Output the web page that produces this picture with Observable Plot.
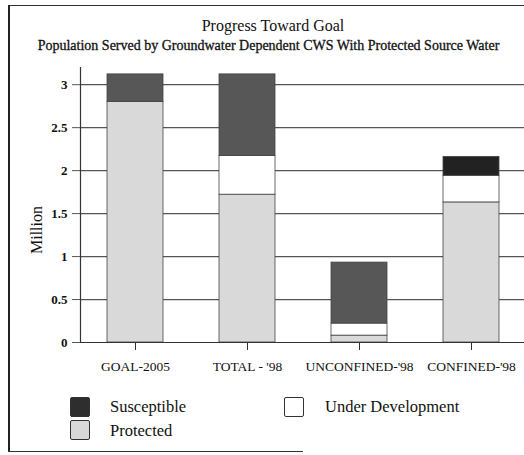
<!DOCTYPE html>
<html>
<head>
<meta charset="utf-8">
<script src="https://cdn.jsdelivr.net/npm/d3@7"></script>
<script src="https://cdn.jsdelivr.net/npm/@observablehq/plot@0.6"></script>
<style>
  body { margin: 0; background: #fff; font-family: "Liberation Serif", "DejaVu Serif", serif; }
  #wrap { position: relative; width: 524px; height: 455px; overflow: hidden; }
  .abs { position: absolute; white-space: nowrap; color: #111; }
  .sw { position: absolute; width: 20px; height: 20px; border: 1px solid #333; box-sizing: border-box; border-radius: 2px; }
</style>
</head>
<body>
<div id="wrap">
  <div class="abs" style="left:8px;top:5px;width:516px;height:0;border-top:1.5px solid #333"></div>
  <div class="abs" style="left:8px;top:5px;width:0;height:447px;border-left:2px solid #222"></div>
  <div class="abs" style="left:8px;top:451px;width:295px;height:0;border-top:1.5px solid #333"></div>
  <div class="abs" id="title" style="left:0;width:546px;top:17px;text-align:center;font-size:16px">Progress Toward Goal</div>
  <div class="abs" id="subtitle" style="left:0;width:537px;top:38px;text-align:center;font-size:14px;-webkit-text-stroke:0.3px #111">Population Served by Groundwater Dependent CWS With Protected Source Water</div>
  <div id="chart" class="abs" style="left:0;top:60px"></div>
  <div class="abs" style="left:37px;top:230px;font-size:16px;transform:translate(-50%,-50%) rotate(-90deg)">Million</div>
  <div id="legend"></div>
</div>
<script>
const categories = ["GOAL-2005", "TOTAL - '98", "UNCONFINED-'98", "CONFINED-'98"];
const protectedVals = [2.80, 1.72, 0.08, 1.63];
const underDevVals = [0.00, 0.45, 0.14, 0.31];
const susceptibleVals = [0.32, 0.95, 0.71, 0.22];
const yTicks = [0, 0.5, 1, 1.5, 2, 2.5, 3];
const seriesNames = ["Protected", "Under Development", "Susceptible"];
const seriesColors = {"Protected": "#d9d9d9", "Under Development": "#ffffff", "Susceptible": "#575757"};

const rows = [];
categories.forEach((c, i) => {
  rows.push({cat: c, series: "Protected", value: protectedVals[i], fill: seriesColors["Protected"]});
  rows.push({cat: c, series: "Under Development", value: underDevVals[i], fill: seriesColors["Under Development"]});
  rows.push({cat: c, series: "Susceptible", value: susceptibleVals[i], fill: i === 3 ? "#222222" : seriesColors["Susceptible"]});
});

const chart = Plot.plot({
  width: 524,
  height: 322,
  marginLeft: 80,
  marginRight: 0,
  marginTop: 7,
  marginBottom: 40,
  style: {fontFamily: "'Liberation Serif', serif", fontSize: "12px", color: "#111", background: "transparent"},
  x: {domain: categories, range: [77.7, 528.3], paddingInner: 0.5, paddingOuter: 0.25, label: null},
  y: {domain: [0, 3.2], label: null},
  marks: [
    Plot.ruleY(yTicks.filter(d => d > 0), {stroke: "#555", strokeWidth: 1.2}),
    Plot.barY(rows, Plot.stackY({x: "cat", y: "value", fill: "fill", stroke: "#444", strokeWidth: 0.8, order: seriesNames})),
    Plot.frame({anchor: "left", stroke: "#333", strokeWidth: 1.2}),
    Plot.ruleY([0], {stroke: "#333", strokeWidth: 1.2}),
    Plot.axisY({ticks: yTicks, tickSize: 8, tickPadding: 5, tickFormat: d => String(d), stroke: "#555", fontSize: 13, fontWeight: "bold"}),
    Plot.axisX({tickSize: 8, tickPadding: 11, fontSize: 13.5, stroke: "#333"})
  ]
});
document.getElementById("chart").appendChild(chart);

const legend = document.getElementById("legend");
const legendItems = [
  {name: "Susceptible", color: "#2e2e2e", sx: 70, sy: 397, tx: 110, ty: 397},
  {name: "Protected", color: "#d9d9d9", sx: 70, sy: 420, tx: 110, ty: 421},
  {name: "Under Development", color: "#ffffff", sx: 284, sy: 397, tx: 325, ty: 397}
];
legendItems.forEach(it => {
  const sw = document.createElement("div");
  sw.className = "sw";
  sw.style.left = it.sx + "px"; sw.style.top = it.sy + "px"; sw.style.background = it.color;
  legend.appendChild(sw);
  const t = document.createElement("div");
  t.className = "abs";
  t.style.left = it.tx + "px"; t.style.top = it.ty + "px"; t.style.fontSize = "16.5px";
  t.textContent = it.name;
  legend.appendChild(t);
});
</script>
</body>
</html>
